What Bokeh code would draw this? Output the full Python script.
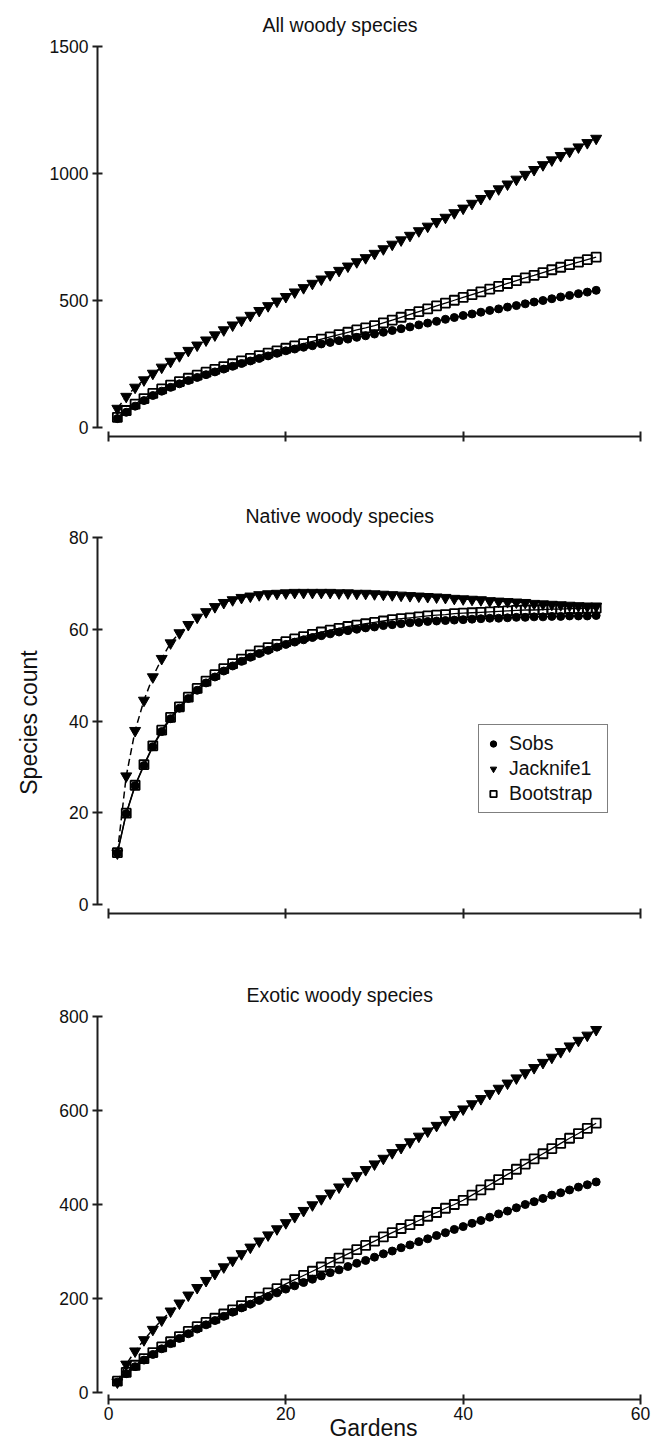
from bokeh.plotting import figure
from bokeh.layouts import column
from bokeh.models import FixedTicker, Range1d, Legend, LegendItem
from bokeh.embed import file_html
from bokeh.resources import INLINE

gardens = list(range(1, 56))

# All woody species
all_sobs = [35, 60, 84, 106, 126, 143, 158, 172, 185, 197, 208, 219, 230, 241, 252, 262, 272, 282, 292, 302,
            309, 316, 322, 329, 335, 342, 348, 355, 361, 368, 375, 382, 389, 396, 404, 411, 418, 426, 433, 441,
            447, 454, 461, 467, 474, 480, 487, 494, 500, 507, 514, 520, 527, 533, 540]
all_jack = [75, 122, 158, 187, 213, 237, 260, 282, 303, 324, 344, 364, 384, 403, 422, 441, 460, 479, 497, 515,
            533, 550, 567, 584, 601, 618, 635, 652, 668, 685, 703, 721, 738, 756, 774, 792, 810, 827, 845, 863,
            882, 901, 920, 939, 958, 977, 996, 1015, 1034, 1053, 1070, 1087, 1104, 1121, 1138]
all_boot = [40, 67, 92, 114, 134, 152, 167, 181, 194, 206, 218, 229, 240, 251, 262, 272, 283, 293, 302, 312,
            321, 330, 339, 348, 357, 366, 375, 384, 392, 401, 412, 423, 434, 445, 456, 467, 479, 490, 501, 512,
            523, 534, 545, 556, 567, 578, 589, 599, 610, 621, 631, 641, 651, 661, 671]

# Native woody species
nat_sobs = [11.2, 19.8, 25.9, 30.3, 34.4, 37.7, 40.5, 42.8, 44.9, 46.7, 48.3, 49.6, 50.9, 52.0, 53.0, 53.9, 54.7,
            55.4, 56.1, 56.7, 57.2, 57.7, 58.2, 58.6, 59.0, 59.4, 59.7, 60.0, 60.3, 60.5, 60.8, 61.0, 61.2, 61.4,
            61.5, 61.7, 61.8, 61.9, 62.0, 62.1, 62.2, 62.3, 62.4, 62.4, 62.5, 62.6, 62.6, 62.7, 62.7, 62.8, 62.8,
            62.9, 62.9, 62.9, 63.0]
nat_jack = [11.2, 28.0, 37.9, 44.5, 49.6, 53.6, 57.0, 59.2, 61.0, 62.6, 63.8, 64.9, 65.8, 66.4, 66.9, 67.2, 67.5,
            67.7, 67.8, 67.9, 68.0, 68.0, 68.0, 68.0, 68.0, 67.9, 67.9, 67.8, 67.8, 67.7, 67.6, 67.5, 67.4, 67.3,
            67.2, 67.1, 67.0, 66.9, 66.7, 66.6, 66.5, 66.4, 66.2, 66.1, 66.0, 65.9, 65.8, 65.6, 65.5, 65.4, 65.3,
            65.2, 65.1, 65.0, 65.0]
nat_boot = [11.3, 19.9, 26.0, 30.5, 34.6, 38.0, 40.8, 43.1, 45.2, 47.1, 48.7, 50.1, 51.4, 52.5, 53.5, 54.4, 55.3,
            56.0, 56.7, 57.3, 57.9, 58.4, 58.9, 59.4, 59.8, 60.2, 60.6, 60.9, 61.2, 61.5, 61.8, 62.1, 62.3, 62.5,
            62.7, 62.9, 63.1, 63.2, 63.4, 63.5, 63.6, 63.7, 63.8, 63.9, 64.0, 64.1, 64.2, 64.2, 64.3, 64.4, 64.4,
            64.5, 64.5, 64.6, 64.6]

# Exotic woody species
exo_sobs = [22, 40, 55, 69, 81, 93, 104, 115, 125, 135, 144, 153, 162, 171, 180, 188, 196, 204, 212, 220,
            227, 234, 241, 248, 255, 261, 268, 275, 281, 288, 295, 301, 308, 314, 321, 327, 334, 340, 347, 353,
            360, 366, 373, 380, 386, 393, 400, 406, 413, 420, 425, 431, 437, 442, 448]
exo_jack = [22, 60, 88, 112, 134, 154, 173, 190, 207, 223, 238, 253, 267, 281, 295, 309, 322, 335, 348, 361,
            374, 387, 399, 412, 424, 437, 449, 461, 474, 486, 498, 510, 521, 533, 545, 556, 568, 580, 591, 603,
            614, 625, 636, 647, 658, 669, 680, 691, 702, 713, 725, 737, 749, 760, 772]
exo_boot = [24, 43, 58, 72, 85, 97, 108, 119, 130, 140, 149, 158, 167, 176, 185, 194, 203, 212, 221, 231,
            240, 249, 258, 267, 277, 286, 295, 304, 313, 322, 331, 340, 349, 357, 366, 375, 383, 392, 400, 409,
            420, 431, 442, 453, 464, 475, 486, 497, 508, 519, 530, 541, 551, 562, 573]

x_ticks = [0, 20, 40, 60]
all_ticks = [0, 500, 1000, 1500]
nat_ticks = [0, 20, 40, 60, 80]
exo_ticks = [0, 200, 400, 600, 800]

titles = ["All woody species", "Native woody species", "Exotic woody species"]
series_names = ["Sobs", "Jacknife1", "Bootstrap"]

FONT = "Liberation Sans"
AXC = "#1e1e1e"


def make_panel(title, title_offset, sobs, jack, boot, yticks, yr, height, btop, bbottom,
               xlabels=False, ylabel=None, legend=False):
    p = figure(width=660, height=height, output_backend="svg", toolbar_location=None,
               x_range=Range1d(-1.2406, 61.015), y_range=Range1d(*yr),
               min_border_left=97, min_border_right=11,
               min_border_top=btop, min_border_bottom=bbottom)
    p.title.text = title
    p.title.align = "left"
    p.title.offset = title_offset
    p.title.text_font = FONT
    p.title.text_font_size = "19.5px"
    p.title.text_font_style = "normal"
    p.title.text_color = "#111111"
    p.title.standoff = 9
    p.outline_line_color = None
    p.xgrid.visible = False
    p.ygrid.visible = False
    p.background_fill_color = "white"
    p.border_fill_color = "white"

    for ax, ticks in ((p.xaxis[0], x_ticks), (p.yaxis[0], yticks)):
        ax.ticker = FixedTicker(ticks=ticks, minor_ticks=[])
        ax.bounds = (ticks[0], ticks[-1])
        ax.axis_line_color = AXC
        ax.axis_line_width = 2
        ax.major_tick_line_color = AXC
        ax.major_tick_line_width = 2
        ax.major_tick_in = 5
        ax.major_tick_out = 5
        ax.minor_tick_line_color = None
        ax.major_label_text_font = FONT
        ax.major_label_text_font_size = "17.5px"
        ax.major_label_text_color = "#111111"
        ax.major_label_standoff = 4
        ax.axis_label_text_font = FONT
        ax.axis_label_text_font_size = "23px"
        ax.axis_label_text_font_style = "normal"
        ax.axis_label_text_color = "#111111"

    if not xlabels:
        p.xaxis[0].major_label_overrides = {t: "" for t in x_ticks}
    else:
        p.xaxis[0].axis_label = "Gardens"
        p.xaxis[0].major_label_standoff = 2
        p.xaxis[0].axis_label_standoff = -8
    if ylabel:
        p.yaxis[0].axis_label = ylabel
        p.yaxis[0].axis_label_standoff = 24

    p.line(gardens, boot, line_color="black", line_width=1.3)
    p.line(gardens, sobs, line_color="black", line_width=1.5)
    p.line(gardens, jack, line_color="black", line_width=1.5, line_dash="7 4")

    r_boot = p.scatter(gardens, boot, marker="square", size=9, fill_color=None,
                       line_color="black", line_width=1.8)
    r_sobs = p.scatter(gardens, sobs, marker="circle", size=8, fill_color="black",
                       line_color="black", line_width=1)
    r_jack = p.scatter(gardens, jack, marker="inverted_triangle", size=11, fill_color="black",
                       line_color="black", line_width=1)

    if legend:
        items = [LegendItem(label=series_names[0], renderers=[r_sobs]),
                 LegendItem(label=series_names[1], renderers=[r_jack]),
                 LegendItem(label=series_names[2], renderers=[r_boot])]
        lg = Legend(items=items, location=(381, 100), orientation="vertical",
                    label_text_font=FONT, label_text_font_size="19.5px", label_text_color="#111111",
                    glyph_width=16, glyph_height=25, label_height=25, label_width=92,
                    label_standoff=8, padding=6, spacing=0, margin=0,
                    border_line_color="black", border_line_width=1.5,
                    background_fill_color="white", background_fill_alpha=1.0)
        p.add_layout(lg, "center")
    return p


p1 = make_panel(titles[0], 165, all_sobs, all_jack, all_boot, all_ticks, (-35.4, 1523.6), 483, 40, 47)
p2 = make_panel(titles[1], 148, nat_sobs, nat_jack, nat_boot, nat_ticks, (-1.96, 81.31), 480, 48, 50,
                ylabel="Species count", legend=True)
p3 = make_panel(titles[2], 149, exo_sobs, exo_jack, exo_boot, exo_ticks, (-14.9, 812.8), 485, 47, 49,
                xlabels=True)

layout = column(p1, p2, p3, spacing=0)
open("out.html", "w").write(file_html(layout, INLINE))
